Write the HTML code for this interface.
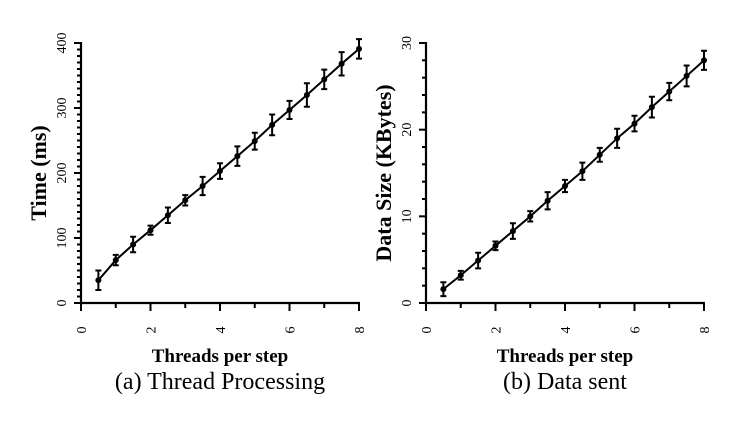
<!DOCTYPE html>
<html><head><meta charset="utf-8"><style>
html,body{margin:0;padding:0;background:#fff;}
svg{display:block;font-family:"Liberation Serif",serif;}
</style></head><body>
<svg id="s" width="741" height="423" xmlns="http://www.w3.org/2000/svg"></svg>
<script>
const s=document.getElementById('s');
let h='';
function plot(L,R,ymax,nmin,per,data,err,ytitle,cap,ytitleX,labX){
  const T=43,B=303;
  const X=v=>L+(R-L)*v/8, Y=v=>B-(B-T)*v/ymax;
  h+=`<line x1="${L}" y1="${T-1}" x2="${L}" y2="${B}" stroke="#000" stroke-width="2.2"/>`;
  h+=`<line x1="${L-1}" y1="${B}" x2="${R+1}" y2="${B}" stroke="#000" stroke-width="2.2"/>`;
  for(let k=0;k<=nmin;k++){
    const v=ymax*k/nmin, maj=k%per==0;
    h+=`<line x1="${L-(maj?7:4)}" y1="${Y(v)}" x2="${L}" y2="${Y(v)}" stroke="#000" stroke-width="2"/>`;
    if(maj){h+=`<text transform="translate(${labX},${Y(v)}) rotate(-90)" text-anchor="middle" font-size="14">${Math.round(v)}</text>`;}
  }
  for(let v=0;v<=8;v++){
    const maj=v%2==0;
    h+=`<line x1="${X(v)}" y1="${B}" x2="${X(v)}" y2="${B+(maj?8:5)}" stroke="#000" stroke-width="2"/>`;
    if(maj)h+=`<text transform="translate(${X(v)+5},330) rotate(-90)" text-anchor="middle" font-size="14">${v}</text>`;
  }
  let pts=[];
  data.forEach((d,i)=>{const x=X(0.5*(i+1)),y=Y(d);pts.push(x+','+y);
    const e=err[i];h+=`<path d="M${x},${Y(d-e)}V${Y(d+e)}M${x-3},${Y(d-e)}h6M${x-3},${Y(d+e)}h6" stroke="#000" stroke-width="2" fill="none"/>`;
    h+=`<circle cx="${x}" cy="${y}" r="3"/>`;});
  h+=`<polyline points="${pts.join(' ')}" fill="none" stroke="#000" stroke-width="2"/>`;
  h+=`<text transform="translate(${ytitleX},${(T+B)/2}) rotate(-90)" text-anchor="middle" font-size="22" font-weight="bold">${ytitle}</text>`;
  h+=`<text x="${(L+R)/2}" y="362" text-anchor="middle" font-size="19" font-weight="bold">Threads per step</text>`;
  h+=`<text x="${(L+R)/2}" y="389" text-anchor="middle" font-size="24">${cap}</text>`;
}
plot(81,359,400,40,10,[35,66,90,112,135,158,180,203,226,249,274,297,320,344,368,391],[15,8,12,7,12,8,14,12,15,13,16,14,18,15,18,15],'Time (ms)','(a) Thread Processing',46,66);
plot(426,704,30,15,5,[1.6,3.2,4.9,6.6,8.3,10,11.8,13.5,15.2,17.1,19,20.7,22.6,24.4,26.2,28],[0.8,0.5,0.9,0.5,0.9,0.6,1,0.7,1,0.8,1.1,0.9,1.2,1,1.2,1.1],'Data Size (KBytes)','(b) Data sent',391,411);
s.innerHTML=h;
</script>
</body></html>
